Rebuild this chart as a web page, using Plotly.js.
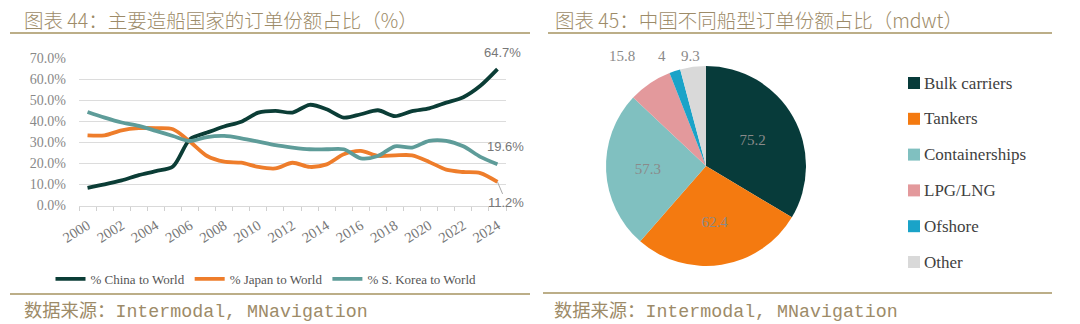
<!DOCTYPE html>
<html>
<head>
<meta charset="utf-8">
<script src="https://cdn.plot.ly/plotly-3.0.1.min.js"></script>
<style>html,body{margin:0;padding:0;background:#fff;}#chart{width:1080px;height:324px;}</style>
</head>
<body>
<div id="chart"></div>
<script>
// ---- data ----
const years = [2000,2001,2002,2003,2004,2005,2006,2007,2008,2009,2010,2011,2012,2013,2014,2015,2016,2017,2018,2019,2020,2021,2022,2023,2024];
const china = [8.4,10.0,11.9,14.4,16.3,18.5,31.5,34.6,37.5,39.8,44.1,44.9,44.1,47.8,45.7,41.7,43.3,45.2,42.4,44.8,46.1,48.8,51.4,56.8,64.7];
const japan = [33.3,33.3,35.7,36.7,36.7,36.2,30.3,23.5,20.8,20.3,18.3,17.6,20.3,18.3,19.5,24.3,25.9,23.5,23.8,23.8,20.7,17.0,15.9,15.4,11.2];
const korea = [44.4,41.7,39.4,37.8,35.4,33.0,30.6,32.5,33.0,31.9,30.3,28.6,27.5,26.7,26.7,26.7,22.4,23.5,28.1,27.5,30.7,30.7,28.1,23.1,19.6];
const seriesNames = ['% China to World','% Japan to World','% S. Korea to World'];
const lineColors = ['#0b3d36','#ee7d2b','#5e9c99'];

const shipTypes = ['Bulk carriers','Tankers','Containerships','LPG/LNG','Ofshore','Other'];
const shipValues = [75.2,62.4,57.3,15.8,4,9.3];
const shipColors = ['#073b3a','#f47a10','#80c0c0','#e3999c','#1aa3c8','#d9d9d9'];

const title1 = '图表 44：主要造船国家的订单份额占比（%）';
const title2 = '图表 45：中国不同船型订单份额占比（mdwt）';
const source = '数据来源：Intermodal, MNavigation';

// ---- helpers ----
const W = 1080, H = 324;
const px = x => x / W;
const py = y => (H - y) / H;

const serif = 'Liberation Serif, DejaVu Serif, serif';
const titleColor = '#9d8b68';
const lineTan = '#bcae88';
const pieLabelColor = '#8a8a8a';

const traces = [];
[china, japan, korea].forEach((vals, i) => {
  traces.push({
    type: 'scatter', mode: 'lines', x: years, y: vals, name: seriesNames[i],
    line: {color: lineColors[i], width: 3.8, shape: 'spline', smoothing: 0.8},
    xaxis: 'x', yaxis: 'y', hoverinfo: 'skip', legend: 'legend'
  });
});

// small slices get their labels above the pie (as in the reference), big ones inside
const bigSlice = shipValues.map(v => v > 30);
traces.push({
  type: 'pie', labels: shipTypes, values: shipValues, sort: false,
  direction: 'clockwise', rotation: 0,
  marker: {colors: shipColors, line: {color: '#ffffff', width: 0}},
  textinfo: 'value',
  textposition: bigSlice.map(b => b ? 'inside' : 'none'),
  insidetextorientation: 'horizontal',
  insidetextfont: {family: serif, size: 15, color: pieLabelColor},
  domain: {x: [px(606), px(806)], y: [py(266), py(66)]},
  showlegend: false, hoverinfo: 'skip'
});

const labelFont = {family: 'Liberation Sans, sans-serif', size: 13, color: '#777'};
const annotations = [
  {xref: 'paper', yref: 'paper', x: px(22), y: py(19), xanchor: 'left', yanchor: 'middle',
   text: title1, showarrow: false, font: {family: 'Noto Sans CJK SC', size: 19.5, weight: 300, color: titleColor}},
  {xref: 'paper', yref: 'paper', x: px(553), y: py(19), xanchor: 'left', yanchor: 'middle',
   text: title2, showarrow: false, font: {family: 'Noto Sans CJK SC', size: 19.5, weight: 300, color: titleColor}},
  {xref: 'paper', yref: 'paper', x: px(22), y: py(311), xanchor: 'left', yanchor: 'middle',
   text: source, showarrow: false, font: {family: 'Liberation Mono, Noto Sans CJK SC', size: 18.3, color: titleColor}},
  {xref: 'paper', yref: 'paper', x: px(552), y: py(311), xanchor: 'left', yanchor: 'middle',
   text: source, showarrow: false, font: {family: 'Liberation Mono, Noto Sans CJK SC', size: 18.3, color: titleColor}},
  {xref: 'x', yref: 'y', x: years[24], y: china[24], text: china[24].toFixed(1) + '%', showarrow: false,
   xshift: 5, yshift: 17, font: labelFont},
  {xref: 'x', yref: 'y', x: years[24], y: korea[24], text: korea[24].toFixed(1) + '%', showarrow: false,
   xshift: 8, yshift: 18, font: labelFont},
  {xref: 'x', yref: 'y', x: years[24], y: japan[24], text: japan[24].toFixed(1) + '%', showarrow: true,
   ax: 9, ay: 21, arrowhead: 0, arrowwidth: 1, arrowcolor: '#aaa', standoff: 0, font: labelFont}
];

// labels of the small pie slices, placed above the pie
const smallLabelX = [622, 662, 690];
shipValues.forEach((v, i) => {
  if (!bigSlice[i]) {
    const k = i - 3;
    annotations.push({xref: 'paper', yref: 'paper', x: px(smallLabelX[k]), y: py(56), xanchor: 'center', yanchor: 'middle',
      text: String(v), showarrow: false, font: {family: serif, size: 15, color: pieLabelColor}});
  }
});

const shapes = [
  {type: 'line', xref: 'paper', yref: 'paper', x0: px(10), x1: px(530), y0: py(33), y1: py(33), line: {color: lineTan, width: 2}},
  {type: 'line', xref: 'paper', yref: 'paper', x0: px(548), x1: px(1052), y0: py(33), y1: py(33), line: {color: lineTan, width: 2}},
  {type: 'line', xref: 'paper', yref: 'paper', x0: px(10), x1: px(530), y0: py(294), y1: py(294), line: {color: lineTan, width: 2}},
  {type: 'line', xref: 'paper', yref: 'paper', x0: px(543), x1: px(1052), y0: py(293), y1: py(293), line: {color: lineTan, width: 2}}
];

// custom pie legend
shipTypes.forEach((name, i) => {
  const yc = 83 + i * 35.8;
  shapes.push({type: 'rect', xref: 'paper', yref: 'paper', x0: px(908), x1: px(920), y0: py(yc + 6), y1: py(yc - 6),
    fillcolor: shipColors[i], line: {width: 0}});
  annotations.push({xref: 'paper', yref: 'paper', x: px(922), y: py(yc), xanchor: 'left', yanchor: 'middle',
    text: name, showarrow: false, font: {family: serif, size: 17, color: '#3f3f3f'}});
});

const layout = {
  width: W, height: H,
  margin: {l: 0, r: 0, t: 0, b: 0},
  paper_bgcolor: '#ffffff', plot_bgcolor: '#ffffff',
  showlegend: true,
  legend: {orientation: 'h', x: px(266), y: py(279), xanchor: 'center', yanchor: 'middle',
    font: {family: serif, size: 13, color: '#555'}, itemwidth: 30, bgcolor: 'rgba(0,0,0,0)'},
  xaxis: {
    domain: [px(79), px(506)], range: [1999.5, 2024.5],
    tickmode: 'linear', tick0: 2000, dtick: 2, ticks: '', tickangle: -32,
    tickfont: {family: serif, size: 14.5, color: '#777'}, ticklabelstandoff: 5,
    showgrid: false, zeroline: false, showline: true, linecolor: '#d9d9d9', linewidth: 1,
    minor: {tick0: 1999.5, dtick: 1, ticks: 'outside', ticklen: 4, tickcolor: '#d0d0d0', showgrid: false},
    fixedrange: true
  },
  yaxis: {
    domain: [py(205.5), py(58)], range: [0, 70],
    tickmode: 'linear', tick0: 0, dtick: 10, tickformat: '.1f', ticksuffix: '%',
    tickfont: {family: serif, size: 14, color: '#888'},
    showgrid: true, gridcolor: '#dcdcdc', gridwidth: 1, zeroline: false, showline: false,
    ticks: '', ticklabelstandoff: 12, fixedrange: true
  },
  annotations: annotations,
  shapes: shapes
};

Plotly.newPlot('chart', traces, layout, {staticPlot: true, displayModeBar: false});
</script>
</body>
</html>
